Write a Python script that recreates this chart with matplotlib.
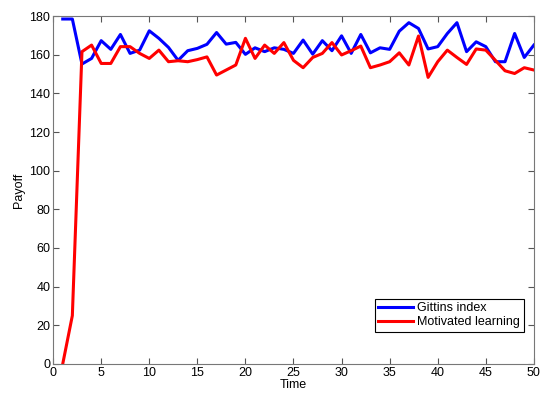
"""Gittins index vs motivated learning payoff over time"""

import matplotlib
matplotlib.use('Agg')
import matplotlib.pyplot as plt

plt.rcParams['font.family'] = ['Liberation Sans', 'DejaVu Sans']

##
# DATA
time = list(range(1, 51))
gittins = [178.5, 178.5, 155.2, 158.1, 167.3, 162.8, 170.5, 160.7, 162.4, 172.4,
           168.5, 163.8, 157.1, 162.1, 163.3, 165.4, 171.5, 165.5, 166.4, 160.2,
           163.6, 161.6, 163.6, 162.8, 160.7, 167.6, 160.3, 167.3, 162.1, 169.8,
           160.7, 170.5, 161.0, 163.6, 162.8, 172.2, 176.6, 173.6, 163.0, 164.2,
           171.0, 176.6, 161.6, 166.7, 164.2, 156.4, 156.4, 171.0, 158.6, 165.0]
motivated = [0.0, 25.0, 161.6, 165.0, 155.5, 155.5, 164.2, 164.2, 160.7, 158.1,
             162.4, 156.4, 156.9, 156.4, 157.5, 158.9, 149.5, 152.1, 154.7, 168.5,
             158.1, 165.0, 160.7, 166.3, 157.1, 153.3, 158.6, 160.7, 166.3, 159.9,
             162.1, 164.5, 153.3, 154.7, 156.4, 161.0, 154.7, 169.7, 148.3, 156.4,
             162.4, 158.6, 155.0, 163.0, 162.4, 157.1, 151.7, 150.3, 153.3, 152.1]
labels = ['Gittins index', 'Motivated learning']
xticks = list(range(0, 51, 5))
yticks = list(range(0, 181, 20))

##
# PLOT
fig = plt.figure(figsize=(5.42, 3.93), dpi=100)
ax = fig.add_axes([0.098, 0.074, 0.887, 0.885])

ax.plot(time, gittins, color='#0000ff', lw=2.2, label=labels[0])
ax.plot(time, motivated, color='#ff0000', lw=2.2, label=labels[1])

ax.set_xlim(0, 50)
ax.set_ylim(0, 180)
ax.set_xticks(xticks)
ax.set_yticks(yticks)
ax.tick_params(direction='in', top=True, right=True, labelsize=9,
               length=4, width=0.8, color='#555555', pad=2)
for s in ax.spines.values():
    s.set_color('#777777')
    s.set_linewidth(0.8)

ax.set_xlabel('Time', fontsize=9, labelpad=0)
ax.set_ylabel('Payoff', fontsize=9, labelpad=3)

leg = ax.legend(loc='lower right', bbox_to_anchor=(0.979, 0.092), fontsize=9,
                fancybox=False, framealpha=1, edgecolor='black',
                handlelength=2.8, handletextpad=0.3, borderpad=0.3,
                labelspacing=0.15, borderaxespad=0)
leg.get_frame().set_linewidth(0.8)

fig.savefig('out.png', dpi=100)
